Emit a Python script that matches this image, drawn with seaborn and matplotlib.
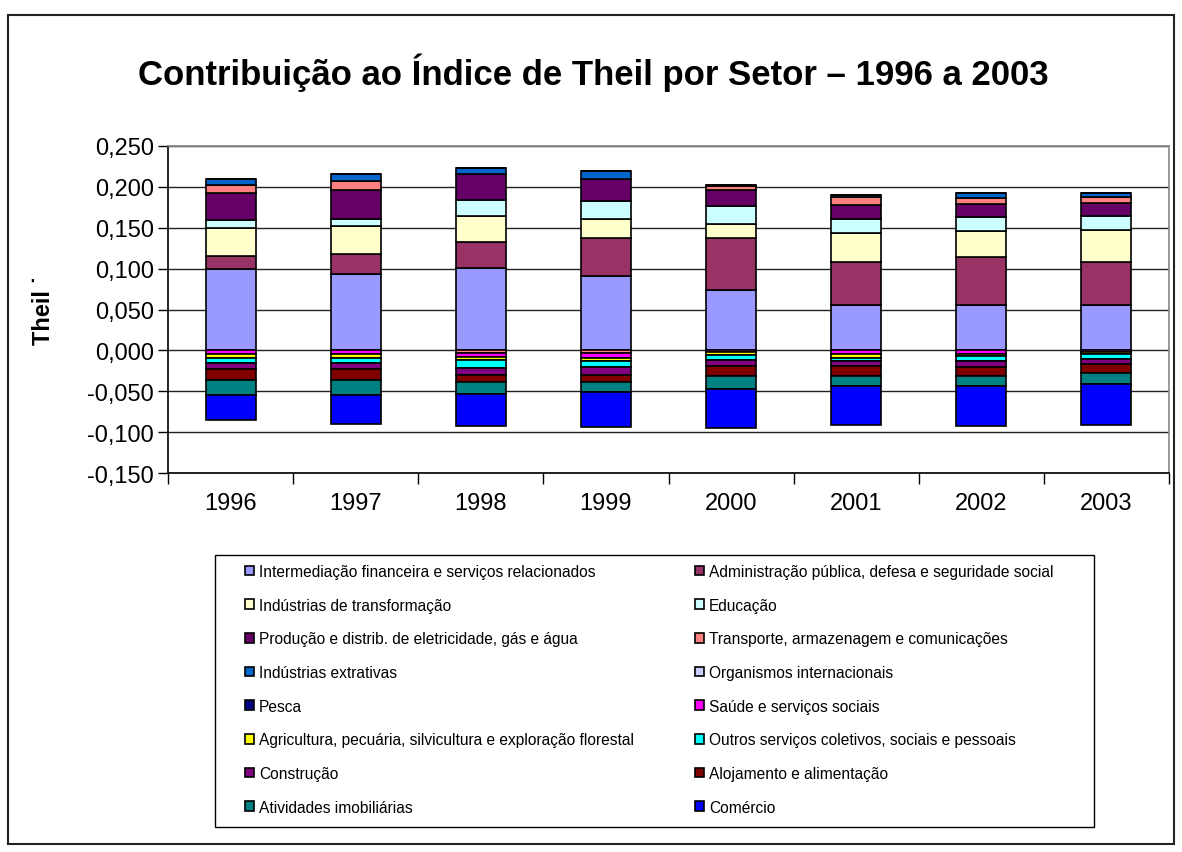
"""Contribuição ao Índice de Theil por setor, barras empilhadas 1996-2003."""
import numpy as np
import pandas as pd
import seaborn as sns
import matplotlib
matplotlib.use('Agg')
import matplotlib.pyplot as plt
from matplotlib.patches import Rectangle
from matplotlib.ticker import FuncFormatter, MultipleLocator

years = ['1996', '1997', '1998', '1999', '2000', '2001', '2002', '2003']

sectors = [
    'Intermediação financeira e serviços relacionados',
    'Administração pública, defesa e seguridade social',
    'Indústrias de transformação',
    'Educação',
    'Produção e distrib. de eletricidade, gás e água',
    'Transporte, armazenagem e comunicações',
    'Indústrias extrativas',
    'Organismos internacionais',
    'Pesca',
    'Saúde e serviços sociais',
    'Agricultura, pecuária, silvicultura e exploração florestal',
    'Outros serviços coletivos, sociais e pessoais',
    'Construção',
    'Alojamento e alimentação',
    'Atividades imobiliárias',
    'Comércio',
]

colors = ['#9999FF', '#993366', '#FFFFCC', '#CCFFFF', '#660066', '#FF8080',
          '#0066CC', '#CCCCFF', '#000080', '#FF00FF', '#FFFF00', '#00FFFF',
          '#800080', '#800000', '#008080', '#0000FF']

intermediacao = [0.100, 0.094, 0.101, 0.0905, 0.0737, 0.056, 0.0557, 0.0557]
administracao = [0.015, 0.0234, 0.032, 0.047, 0.0643, 0.0516, 0.0586, 0.052]
transformacao = [0.035, 0.0344, 0.031, 0.023, 0.0168, 0.0363, 0.0315, 0.040]
educacao = [0.009, 0.0089, 0.0196, 0.0225, 0.0212, 0.0166, 0.0176, 0.0172]
eletricidade = [0.033, 0.036, 0.032, 0.027, 0.0197, 0.017, 0.0156, 0.0156]
transporte = [0.010, 0.0103, -0.003, -0.003, 0.0053, 0.010, 0.008, 0.0074]
extrativas = [0.008, 0.0086, 0.0078, 0.0095, 0.0015, 0.003, 0.0054, 0.005]
organismos = [0.0, 0.0, 0.0, 0.0, 0.0, 0.0, 0.0, 0.0]
pesca = [0.0, 0.0, 0.0, 0.0, 0.0, 0.0, 0.0, 0.0]
saude = [-0.004, -0.004, -0.005, -0.006, -0.002, -0.004, -0.004, -0.0015]
agricultura = [-0.005, -0.005, -0.004, -0.0045, -0.004, -0.005, -0.003, -0.003]
outros = [-0.007, -0.007, -0.009, -0.007, -0.006, -0.0045, -0.0065, -0.006]
construcao = [-0.007, -0.007, -0.009, -0.0095, -0.0074, -0.006, -0.0074, -0.006]
alojamento = [-0.013, -0.013, -0.009, -0.009, -0.0123, -0.0123, -0.0107, -0.011]
imobiliarias = [-0.018, -0.019, -0.0138, -0.012, -0.015, -0.012, -0.0118, -0.0135]
comercio = [-0.031, -0.035, -0.0402, -0.0426, -0.048, -0.0475, -0.0487, -0.050]

series = [intermediacao, administracao, transformacao, educacao, eletricidade,
          transporte, extrativas, organismos, pesca, saude, agricultura,
          outros, construcao, alojamento, imobiliarias, comercio]

df = pd.DataFrame(dict(zip(sectors, series)), index=years)

sns.set_style('white')
plt.rcParams['font.family'] = ['Liberation Sans', 'DejaVu Sans']
plt.rcParams['text.color'] = 'black'
plt.rcParams['xtick.color'] = 'black'
plt.rcParams['ytick.color'] = 'black'

fig = plt.figure(figsize=(11.82, 8.53), dpi=100)
# moldura externa da figura
fig.patches.append(Rectangle((8 / 1182, 8 / 853), 1166 / 1182, 829 / 853,
                             transform=fig.transFigure, fill=False,
                             edgecolor='#222222', linewidth=1.5))

ax = fig.add_axes([168 / 1182, 1 - 474 / 853, 1001 / 1182, 327 / 853])

# Empilhamento: positivos para cima, negativos para baixo, na ordem das séries
x = np.arange(len(years))
pos_base = np.zeros(len(years))
neg_base = np.zeros(len(years))
handles = []
for name, color in zip(sectors, colors):
    vals = df[name].to_numpy()
    bottom = np.where(vals >= 0, pos_base, neg_base)
    bars = ax.bar(x, vals, width=0.4, bottom=bottom, color=color,
                  edgecolor='black', linewidth=1.2, label=name, zorder=3)
    handles.append(bars)
    pos_base += np.clip(vals, 0, None)
    neg_base += np.clip(vals, None, 0)

ax.set_xlim(-0.5, len(years) - 0.5)
ax.set_ylim(-0.150, 0.250)
ax.yaxis.set_major_locator(MultipleLocator(0.05))
ax.yaxis.set_major_formatter(FuncFormatter(lambda v, p: f'{v:.3f}'.replace('.', ',')))
ax.grid(axis='y', color='#222222', linewidth=1, zorder=0)
ax.set_axisbelow(True)

ax.set_xticks(x)
ax.set_xticklabels(years)
ax.set_xticks(np.arange(len(years) + 1) - 0.5, minor=True)
ax.tick_params(axis='x', which='major', length=0, pad=14, labelsize=17)
ax.tick_params(axis='x', which='minor', length=8, width=1, color='black',
               direction='out', bottom=True)
ax.tick_params(axis='y', length=7, width=1, color='black', direction='out',
               left=True, labelsize=17, pad=3)

for side in ['top', 'right']:
    ax.spines[side].set_color('#888888')
    ax.spines[side].set_linewidth(1.2)
for side in ['left', 'bottom']:
    ax.spines[side].set_color('black')
    ax.spines[side].set_linewidth(1.2)

fig.text(593 / 1182, 1 - 73 / 853,
         'Contribuição ao Índice de Theil por Setor – 1996 a 2003',
         ha='center', va='center', fontsize=25, fontweight='bold')
fig.text(44 / 1182, 1 - 310 / 853, 'Theil ˙', rotation=90, ha='center',
         va='center', fontsize=17, fontweight='bold')

# Legenda em duas colunas, lida por linhas como no original
fig.patches.append(Rectangle((215 / 1182, 1 - 828 / 853), 879 / 1182, 272 / 853,
                             transform=fig.transFigure, fill=False,
                             edgecolor='black', linewidth=1))
leg_kw = dict(loc='upper left', frameon=False, fontsize=11.2, borderpad=0,
              borderaxespad=0, handlelength=0.6, handleheight=0.6,
              handletextpad=0.3, labelspacing=1.2)
for col, xpos in enumerate([245, 695]):
    idx = list(range(col, len(sectors), 2))
    fig.legend([handles[i] for i in idx], [sectors[i] for i in idx],
               bbox_to_anchor=(xpos / 1182, 1 - 565 / 853), **leg_kw)

fig.savefig('out.png', dpi=100)
